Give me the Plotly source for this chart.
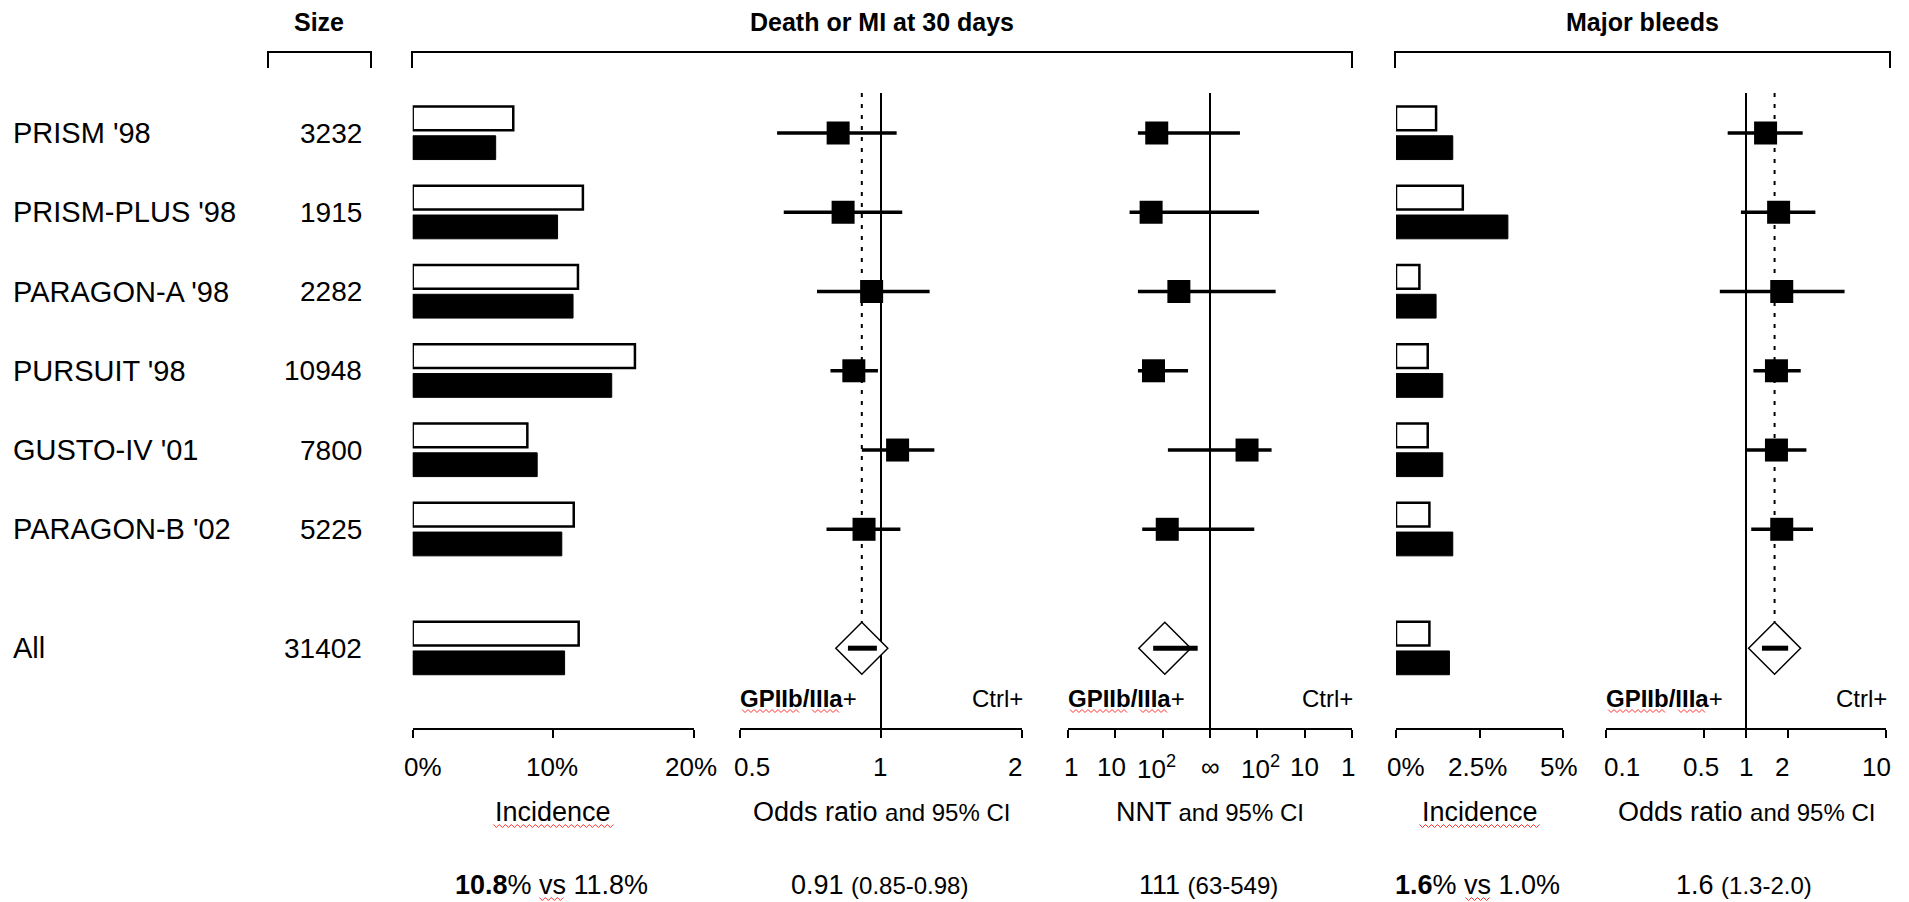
import math
import plotly.graph_objects as go

W, H = 1909, 902

# ---------------- data ----------------
trials = ["PRISM '98", "PRISM-PLUS '98", "PARAGON-A '98", "PURSUIT '98", "GUSTO-IV '01", "PARAGON-B '02"]
sizes = [3232, 1915, 2282, 10948, 7800, 5225]
all_label = "All"
all_size = 31402

# Death or MI at 30 days - incidence (%)
dmi_ctrl = [7.15, 12.1, 11.75, 15.8, 8.15, 11.45]
dmi_gp = [5.9, 10.3, 11.4, 14.15, 8.85, 10.6]
dmi_all_ctrl = 11.8
dmi_all_gp = 10.8

# Death or MI - odds ratio and 95% CI
dmi_or = [0.81, 0.83, 0.955, 0.875, 1.085, 0.92]
dmi_or_lo = [0.60, 0.62, 0.73, 0.78, 0.91, 0.765]
dmi_or_hi = [1.08, 1.11, 1.27, 0.985, 1.30, 1.10]
dmi_all_or = [0.91, 0.85, 0.98]

# Death or MI - NNT and 95% CI (positive = NNT benefit, negative = NNH harm)
nnt_est = [75, 57, 220, 64, -165, 125]
nnt_lo = [30, 20, 30, 30, 129, 37]
nnt_hi = [-233, -92, -41, 344, -50, -116]
nnt_all = [111, 63, 549]

# Major bleeds - incidence (%)
bl_ctrl = [1.2, 2.0, 0.7, 0.95, 0.95, 1.0]
bl_gp = [1.7, 3.35, 1.2, 1.4, 1.4, 1.7]
bl_all_ctrl = 1.0
bl_all_gp = 1.6

# Major bleeds - odds ratio and 95% CI
bl_or = [1.38, 1.71, 1.80, 1.65, 1.65, 1.80]
bl_or_lo = [0.74, 0.92, 0.65, 1.13, 1.00, 1.09]
bl_or_hi = [2.54, 3.13, 5.06, 2.46, 2.70, 3.01]
bl_all_or = [1.6, 1.3, 2.0]

inc1_ticks = [0, 10, 20]
inc1_text = ["0%", "10%", "20%"]
or1_ticks = [0.5, 1, 2]
or1_text = ["0.5", "1", "2"]
nnt_ticks = [-3, -2, -1, 0, 1, 2, 3]
nnt_text = ["1", "10", "10<sup>2</sup>", "\u221e", "10<sup>2</sup>", "10", "1"]
inc2_ticks = [0, 2.5, 5]
inc2_text = ["0%", "2.5%", "5%"]
or2_ticks = [0.1, 0.5, 1, 2, 10]
or2_text = ["0.1", "0.5", "1", "2", "10"]

# ---------------- layout helpers ----------------
FONT = "Liberation Sans, Arial, sans-serif"
ROW0_PX = 133.0
ROW_PX = 79.26
rows = list(range(len(trials)))
all_row = 6.5
AXIS_PX = 729
TICKLABEL_PX = 767


def px_x(px):
    return px / W


def px_y(py):
    return 1 - py / H


def row_of(py):
    return (py - ROW0_PX) / ROW_PX


def nnt_t(n):
    return -(3 - math.log10(n)) if n > 0 else (3 - math.log10(-n))


panels = {
    "x": (412.7, 694.0),
    "x2": (740.0, 1022.0),
    "x3": (1068.0, 1352.0),
    "x4": (1396.0, 1563.0),
    "x5": (1606.0, 1886.0),
}

fig = go.Figure()

BAR_W = 0.30
BAR_OFF = 0.185

# ---- incidence bars ----
for axis, ctrl, gp, actrl, agp in [("x", dmi_ctrl, dmi_gp, dmi_all_ctrl, dmi_all_gp),
                                   ("x4", bl_ctrl, bl_gp, bl_all_ctrl, bl_all_gp)]:
    ys = rows + [all_row]
    fig.add_trace(go.Bar(orientation="h", x=ctrl + [actrl], y=[y - BAR_OFF for y in ys],
                         width=BAR_W, marker=dict(color="white", line=dict(color="black", width=2.5)),
                         xaxis=axis, yaxis="y", showlegend=False, hoverinfo="skip"))
    fig.add_trace(go.Bar(orientation="h", x=gp + [agp], y=[y + BAR_OFF for y in ys],
                         width=BAR_W, marker=dict(color="black", line=dict(color="black", width=1)),
                         xaxis=axis, yaxis="y", showlegend=False, hoverinfo="skip"))

# ---- reference lines ----
top_row = row_of(93)
axis_row = row_of(AXIS_PX)
diam_top_row = row_of(ROW0_PX + ROW_PX * all_row - 26)


def vline(axis, xv, y0, y1, dash=None):
    fig.add_trace(go.Scatter(x=[xv, xv], y=[y0, y1], mode="lines", xaxis=axis, yaxis="y",
                             line=dict(color="black", width=2, dash=dash),
                             showlegend=False, hoverinfo="skip"))


vline("x2", 1, top_row, axis_row)
vline("x2", dmi_all_or[0], top_row, diam_top_row, dash="4px,7px")
vline("x3", 0, top_row, axis_row)
vline("x5", 1, top_row, axis_row)
vline("x5", bl_all_or[0], top_row, diam_top_row, dash="4px,7px")


# ---- forest points ----
def forest(axis, est, lo, hi):
    fig.add_trace(go.Scatter(
        x=est, y=rows, mode="markers", xaxis=axis, yaxis="y",
        marker=dict(symbol="square", size=23, color="black", line=dict(width=0)),
        error_x=dict(type="data", symmetric=False,
                     array=[h - e for e, h in zip(est, hi)],
                     arrayminus=[e - l for e, l in zip(est, lo)],
                     thickness=3.5, width=0, color="black"),
        showlegend=False, hoverinfo="skip"))


def summary(axis, est, lo, hi):
    fig.add_trace(go.Scatter(x=[est], y=[all_row], mode="markers", xaxis=axis, yaxis="y",
                             marker=dict(symbol="diamond", size=40, color="white",
                                         line=dict(color="black", width=1.5)),
                             showlegend=False, hoverinfo="skip"))
    fig.add_trace(go.Scatter(x=[lo, hi], y=[all_row, all_row], mode="lines", xaxis=axis, yaxis="y",
                             line=dict(color="black", width=5), showlegend=False, hoverinfo="skip"))


forest("x2", dmi_or, dmi_or_lo, dmi_or_hi)
summary("x2", *dmi_all_or)
forest("x3", [nnt_t(v) for v in nnt_est], [nnt_t(v) for v in nnt_lo], [nnt_t(v) for v in nnt_hi])
summary("x3", *[nnt_t(v) for v in nnt_all])
forest("x5", bl_or, bl_or_lo, bl_or_hi)
summary("x5", *bl_all_or)

# ---------------- axes ----------------
axis_common = dict(anchor="free", position=px_y(AXIS_PX), showline=True, linecolor="black",
                   linewidth=2, ticks="outside", ticklen=8, tickwidth=2, tickcolor="black",
                   showgrid=False, zeroline=False, showticklabels=False, fixedrange=True)


def dom(key):
    a, b = panels[key]
    return [px_x(a), px_x(b)]


fig.update_layout(
    xaxis=dict(domain=dom("x"), range=[0, 20], tickmode="array", tickvals=inc1_ticks, **axis_common),
    xaxis2=dict(domain=dom("x2"), type="log", range=[math.log10(0.5), math.log10(2)],
                tickmode="array", tickvals=or1_ticks, **axis_common),
    xaxis3=dict(domain=dom("x3"), range=[-3, 3], tickmode="array", tickvals=nnt_ticks, **axis_common),
    xaxis4=dict(domain=dom("x4"), range=[0, 5], tickmode="array", tickvals=inc2_ticks, **axis_common),
    xaxis5=dict(domain=dom("x5"), type="log", range=[-1, 1], tickmode="array",
                tickvals=or2_ticks, **axis_common),
    yaxis=dict(domain=[0, 1], range=[(H - ROW0_PX) / ROW_PX, -ROW0_PX / ROW_PX],
               visible=False, fixedrange=True),
    width=W, height=H, autosize=False,
    margin=dict(l=0, r=0, t=0, b=0),
    paper_bgcolor="white", plot_bgcolor="white",
    barmode="overlay", showlegend=False,
    font=dict(family=FONT, color="black", size=26),
)

annotations = []
shapes = []

# tick labels placed on each axis scale (edge labels nudged inward as in the original)
tick_sets = [
    ("x", inc1_ticks, inc1_text, False, [10, -1, -3]),
    ("x2", or1_ticks, or1_text, True, [12, -1, -7]),
    ("x3", nnt_ticks, nnt_text, False, [3, -4, -6, 0, 3, 0, -4]),
    ("x4", inc2_ticks, inc2_text, False, [10, -2, -4]),
    ("x5", or2_ticks, or2_text, True, [16, -3, 0, -6, -10]),
]
for key, vals, texts, is_log, shifts in tick_sets:
    for v, t, sh in zip(vals, texts, shifts):
        annotations.append(dict(x=math.log10(v) if is_log else v, y=px_y(TICKLABEL_PX),
                                xref=key, yref="paper", text=t, showarrow=False,
                                xanchor="center", yanchor="middle", xshift=sh,
                                font=dict(family=FONT, size=26, color="black")))


def text(x_px, y_px, s, size, xanchor="center", bold=False):
    annotations.append(dict(x=px_x(x_px), y=px_y(y_px), xref="paper", yref="paper",
                            text=f"<b>{s}</b>" if bold else s, showarrow=False,
                            xanchor=xanchor, yanchor="middle",
                            font=dict(family=FONT, size=size, color="black")))


# headers and brackets
text(319, 22, "Size", 25, bold=True)
text((412.7 + 1352) / 2, 22, "Death or MI at 30 days", 25, bold=True)
text((1395 + 1890) / 2, 22, "Major bleeds", 25, bold=True)
for a, b in [(268, 371), (412, 1352), (1395, 1890)]:
    shapes.append(dict(type="path", xref="paper", yref="paper",
                       path=f"M{px_x(a)},{px_y(68)} L{px_x(a)},{px_y(52)} L{px_x(b)},{px_y(52)} L{px_x(b)},{px_y(68)}",
                       line=dict(color="black", width=2)))

# row labels
for r, name, n in zip(rows + [all_row], trials + [all_label], sizes + [all_size]):
    annotations.append(dict(x=px_x(11), y=r, xref="paper", yref="y", text=name, showarrow=False,
                            xanchor="left", yanchor="middle", font=dict(family=FONT, size=29, color="black")))
    annotations.append(dict(x=px_x(364), y=r, xref="paper", yref="y", text=str(n), showarrow=False,
                            xanchor="right", yanchor="middle", font=dict(family=FONT, size=28, color="black")))

# GPIIb/IIIa+ and Ctrl+ labels
for key in ["x2", "x3", "x5"]:
    a, b = panels[key]
    text(a - 2, 698, "<b>GPIIb/IIIa</b>+", 24, xanchor="left")
    text(b + 3, 698, "Ctrl+", 24, xanchor="right")

# axis titles
small_t = "font-size:24px"
small_s = "font-size:24px"
titles = {
    "x": "Incidence",
    "x2": f"Odds ratio <span style='{small_t}'>and 95% CI</span>",
    "x3": f"NNT <span style='{small_t}'>and 95% CI</span>",
    "x4": "Incidence",
    "x5": f"Odds ratio <span style='{small_t}'>and 95% CI</span>",
}
for key, t in titles.items():
    a, b = panels[key]
    text((a + b) / 2, 812, t, 27)

# summary line
summ = {
    "x": f"<b>{dmi_all_gp:.1f}</b>% vs {dmi_all_ctrl:.1f}%",
    "x2": f"{dmi_all_or[0]:.2f} <span style='{small_s}'>({dmi_all_or[1]:.2f}-{dmi_all_or[2]:.2f})</span>",
    "x3": f"{nnt_all[0]} <span style='{small_s}'>({nnt_all[1]}-{nnt_all[2]})</span>",
    "x4": f"<b>{bl_all_gp:.1f}</b>% vs {bl_all_ctrl:.1f}%",
    "x5": f"{bl_all_or[0]:.1f} <span style='{small_s}'>({bl_all_or[1]:.1f}-{bl_all_or[2]:.1f})</span>",
}
for key, t in summ.items():
    a, b = panels[key]
    text((a + b) / 2 - 2, 885, t, 27)


# red spell-check squiggles (decoration)
def squiggle(x0, x1, y):
    pts = []
    x = x0
    up = True
    while x <= x1:
        pts.append((x, y - 1.5 if up else y + 1.5))
        up = not up
        x += 3
    path = "M" + " L".join(f"{px_x(px)},{px_y(py)}" for px, py in pts)
    shapes.append(dict(type="path", xref="paper", yref="paper", path=path,
                       line=dict(color="#ff3030", width=1)))


for key in ["x2", "x3", "x5"]:
    a, b = panels[key]
    squiggle(a + 2, a + 60, 711)
    squiggle(a + 72, a + 101, 711)
for key in ["x", "x4"]:
    a, b = panels[key]
    c = (a + b) / 2
    squiggle(c - 60, c + 60, 826)
    squiggle(c - 14, c + 10, 899)

fig.update_layout(annotations=annotations, shapes=shapes)
fig.write_html("out.html")
